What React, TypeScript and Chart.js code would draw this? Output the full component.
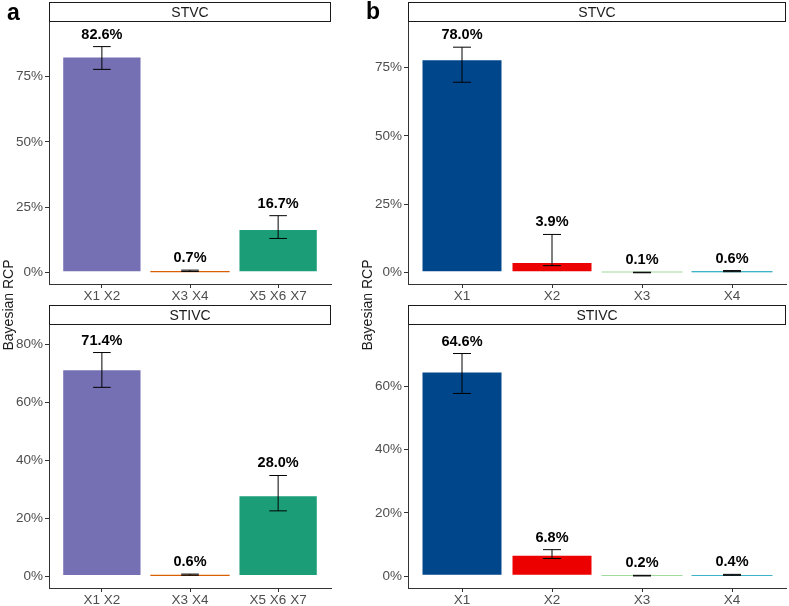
import React, { useEffect, useRef } from 'react';
import { Chart, registerables } from 'chart.js';

Chart.register(...registerables);

const FONT = '"Liberation Sans", Arial, Helvetica, sans-serif';

// ---------- data ----------
const catsA = ['X1 X2', 'X3 X4', 'X5 X6 X7'];
const catsB = ['X1', 'X2', 'X3', 'X4'];

const colorsA = ['#7570B3', '#D95F02', '#1B9E77'];
const colorsB = ['#00468B', '#ED0000', '#42B540', '#0099B4'];

// panel a, STVC
const stvcA = [82.6, 0.7, 16.7];
const stvcALow = [77.7, 0.5, 13.1];
const stvcAHigh = [86.4, 1.0, 21.8];
// panel a, STIVC
const stivcA = [71.4, 0.6, 28.0];
const stivcALow = [65.2, 0.4, 22.6];
const stivcAHigh = [77.2, 0.8, 34.8];
// panel b, STVC
const stvcB = [78.0, 3.9, 0.1, 0.6];
const stvcBLow = [69.6, 2.6, 0.0, 0.4];
const stvcBHigh = [82.4, 14.0, 0.2, 0.8];
// panel b, STIVC
const stivcB = [64.6, 6.8, 0.2, 0.4];
const stivcBLow = [57.7, 5.6, 0.1, 0.3];
const stivcBHigh = [70.3, 8.4, 0.3, 0.6];

const yTicksTop = [0, 25, 50, 75];
const yTicksBottomA = [0, 20, 40, 60, 80];
const yTicksBottomB = [0, 20, 40, 60];

const stripTop = 'STVC';
const stripBottom = 'STIVC';
const yTitle = 'Bayesian RCP';

// ---------- decoration plugin: strip, error bars, value labels ----------
const decorPlugin = {
  id: 'decor',
  afterDatasetsDraw(chart: any, _args: any, opts: any) {
    const { ctx, chartArea } = chart;
    const x = chart.scales.x;
    const y = chart.scales.y;
    ctx.save();
    // strip
    const sh = opts.stripH;
    const sTop = chartArea.top - sh;
    ctx.fillStyle = '#ffffff';
    ctx.fillRect(chartArea.left, sTop, chartArea.right - chartArea.left, sh);
    ctx.strokeStyle = '#1a1a1a';
    ctx.lineWidth = 1;
    ctx.strokeRect(Math.round(chartArea.left) + 0.5, Math.round(sTop) + 0.5,
      Math.round(chartArea.right - chartArea.left) - 1, sh - 1);
    ctx.fillStyle = '#1a1a1a';
    ctx.font = `14px ${FONT}`;
    ctx.textAlign = 'center';
    ctx.textBaseline = 'middle';
    ctx.fillText(opts.strip, (chartArea.left + chartArea.right) / 2, sTop + sh / 2 + 1);

    // error bars
    const halfCap = x.getPixelForValue(1.1) - x.getPixelForValue(1);
    ctx.strokeStyle = '#000000';
    ctx.lineWidth = 1;
    opts.low.forEach((lo: number, i: number) => {
      const hi = opts.high[i];
      const cx = x.getPixelForValue(i + 1);
      const py1 = y.getPixelForValue(lo);
      const py2 = y.getPixelForValue(hi);
      ctx.beginPath();
      ctx.moveTo(cx, py1);
      ctx.lineTo(cx, py2);
      ctx.moveTo(cx - halfCap, py1);
      ctx.lineTo(cx + halfCap, py1);
      ctx.moveTo(cx - halfCap, py2);
      ctx.lineTo(cx + halfCap, py2);
      ctx.stroke();
    });

    // value labels
    ctx.fillStyle = '#000000';
    ctx.font = `bold 14.5px ${FONT}`;
    ctx.textAlign = 'center';
    ctx.textBaseline = 'middle';
    opts.values.forEach((v: number, i: number) => {
      const cx = x.getPixelForValue(i + 1);
      const py = y.getPixelForValue(opts.high[i]) - 12;
      ctx.fillText(v.toFixed(1) + '%', cx, py);
    });
    ctx.restore();
  },
};

type PanelSpec = {
  left: number; top: number; width: number; height: number;
  padTop: number; padRight: number; yW: number; xH: number;
  cats: string[]; colors: string[]; values: number[]; low: number[]; high: number[];
  yMin: number; yMax: number; yTicks: number[]; strip: string; stripH: number;
};

function Panel({ spec }: { spec: PanelSpec }) {
  const ref = useRef<HTMLCanvasElement | null>(null);
  useEffect(() => {
    const n = spec.cats.length;
    const axisColor = '#333333';
    const tickFont = { family: FONT, size: 13.5 };
    const chart = new Chart(ref.current as HTMLCanvasElement, {
      type: 'bar',
      data: {
        datasets: [
          {
            data: spec.values.map((v, i) => ({ x: i + 1, y: v })),
            backgroundColor: spec.colors,
            borderColor: 'rgba(255,255,255,0.45)',
            borderWidth: spec.values.map((v) => (v > 2 ? 1 : 0)),
            borderSkipped: false,
            barPercentage: 0.9,
            categoryPercentage: 1,
            minBarLength: 1,
          } as any,
        ],
      },
      options: {
        animation: false,
        responsive: false,
        maintainAspectRatio: false,
        events: [],
        layout: { padding: { top: spec.padTop, right: spec.padRight, left: 0, bottom: 0 } },
        plugins: {
          legend: { display: false },
          tooltip: { enabled: false },
          decor: {
            strip: spec.strip, stripH: spec.stripH,
            low: spec.low, high: spec.high, values: spec.values,
          },
        } as any,
        scales: {
          x: {
            type: 'linear',
            min: 0.4,
            max: n + 0.6,
            offset: false,
            afterBuildTicks: (s: any) => {
              s.ticks = spec.cats.map((_, i) => ({ value: i + 1 }));
            },
            afterFit: (s: any) => { s.height = spec.xH; },
            ticks: {
              autoSkip: false,
              maxRotation: 0,
              minRotation: 0,
              padding: 0,
              color: '#4d4d4d',
              font: tickFont,
              callback: (v: any) => spec.cats[Math.round(Number(v)) - 1] ?? '',
            },
            grid: {
              display: true, drawOnChartArea: false, drawTicks: true,
              tickLength: 4, color: axisColor, offset: false,
            },
            border: { display: true, color: axisColor, width: 1 },
          },
          y: {
            type: 'linear',
            min: spec.yMin,
            max: spec.yMax,
            afterBuildTicks: (s: any) => {
              s.ticks = spec.yTicks.map((v) => ({ value: v }));
            },
            afterFit: (s: any) => { s.width = spec.yW; },
            ticks: {
              padding: 2,
              color: '#4d4d4d',
              font: tickFont,
              callback: (v: any) => `${v}%`,
            },
            grid: {
              display: true, drawOnChartArea: false, drawTicks: true,
              tickLength: 4, color: axisColor,
            },
            border: { display: true, color: axisColor, width: 1 },
          },
        },
      } as any,
      plugins: [decorPlugin],
    });
    return () => chart.destroy();
  }, []);
  return (
    <div style={{ position: 'absolute', left: spec.left, top: spec.top, width: spec.width, height: spec.height }}>
      <canvas ref={ref} width={spec.width} height={spec.height}
        style={{ width: spec.width, height: spec.height, display: 'block' }} />
    </div>
  );
}

const panels: PanelSpec[] = [
  {
    left: 0, top: 0, width: 340, height: 306, padTop: 22, padRight: 9, yW: 49, xH: 22,
    cats: catsA, colors: colorsA, values: stvcA, low: stvcALow, high: stvcAHigh,
    yMin: -4.3, yMax: 95.8, yTicks: yTicksTop, strip: stripTop, stripH: 20,
  },
  {
    left: 359, top: 0, width: 430, height: 306, padTop: 22, padRight: 3, yW: 49, xH: 22,
    cats: catsB, colors: colorsB, values: stvcB, low: stvcBLow, high: stvcBHigh,
    yMin: -4.1, yMax: 91.6, yTicks: yTicksTop, strip: stripTop, stripH: 20,
  },
  {
    left: 0, top: 304, width: 340, height: 302, padTop: 21, padRight: 9, yW: 49, xH: 18,
    cats: catsA, colors: colorsA, values: stivcA, low: stivcALow, high: stivcAHigh,
    yMin: -4.0, yMax: 86.7, yTicks: yTicksBottomA, strip: stripBottom, stripH: 20,
  },
  {
    left: 359, top: 304, width: 430, height: 302, padTop: 21, padRight: 3, yW: 49, xH: 18,
    cats: catsB, colors: colorsB, values: stivcB, low: stivcBLow, high: stivcBHigh,
    yMin: -3.7, yMax: 79.3, yTicks: yTicksBottomB, strip: stripBottom, stripH: 20,
  },
];

function YTitle({ cx, cy }: { cx: number; cy: number }) {
  return (
    <div style={{
      position: 'absolute', left: cx - 60, top: cy - 9, width: 120, height: 18,
      lineHeight: '18px', textAlign: 'center', fontFamily: FONT, fontSize: 14,
      color: '#1a1a1a', transform: 'rotate(-90deg)', whiteSpace: 'nowrap',
    }}>{yTitle}</div>
  );
}

function Tag({ x, y, text }: { x: number; y: number; text: string }) {
  return (
    <div style={{
      position: 'absolute', left: x, top: y, fontFamily: FONT, fontSize: 23,
      fontWeight: 'bold', color: '#000', lineHeight: '24px',
    }}>{text}</div>
  );
}

export default function App() {
  return (
    <div style={{ position: 'absolute', left: 0, top: 0, width: 789, height: 606, background: '#ffffff', overflow: 'hidden' }}>
      {panels.map((p, i) => <Panel key={i} spec={p} />)}
      <YTitle cx={8} cy={305} />
      <YTitle cx={367} cy={305} />
      <Tag x={7} y={0} text="a" />
      <Tag x={366} y={-1} text="b" />
    </div>
  );
}
